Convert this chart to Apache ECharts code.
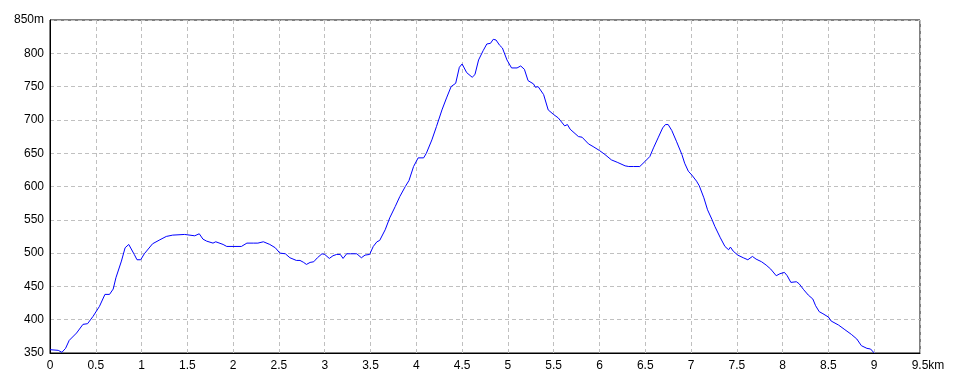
<!DOCTYPE html>
<html>
<head>
<meta charset="utf-8">
<script src="https://cdn.jsdelivr.net/npm/echarts@6/dist/echarts.min.js"></script>
<style>html,body{margin:0;padding:0;background:#fff}#c{width:960px;height:384px}</style>
</head>
<body>
<div id="c"></div>
<script>
const distanceKm = [0, 0.09, 0.13, 0.17, 0.21, 0.29, 0.36, 0.41, 0.47, 0.54,
  0.60, 0.65, 0.69, 0.72, 0.78, 0.82, 0.86, 0.88, 0.92, 0.95,
  0.99, 1.03, 1.12, 1.20, 1.27, 1.34, 1.47, 1.58, 1.63, 1.67,
  1.71, 1.78, 1.81, 1.89, 1.93, 2.09, 2.15, 2.22, 2.27, 2.33,
  2.40, 2.46, 2.51, 2.57, 2.62, 2.69, 2.73, 2.77, 2.80, 2.84,
  2.88, 2.92, 2.97, 3.00, 3.05, 3.09, 3.13, 3.17, 3.20, 3.24,
  3.28, 3.35, 3.40, 3.44, 3.49, 3.53, 3.57, 3.60, 3.66, 3.71,
  3.77, 3.82, 3.88, 3.92, 3.97, 4.02, 4.08, 4.11, 4.17, 4.22,
  4.28, 4.33, 4.38, 4.43, 4.47, 4.50, 4.55, 4.61, 4.64, 4.68,
  4.73, 4.77, 4.81, 4.84, 4.87, 4.91, 4.94, 4.99, 5.04, 5.10,
  5.14, 5.18, 5.22, 5.28, 5.30, 5.33, 5.39, 5.44, 5.50, 5.55,
  5.62, 5.65, 5.68, 5.77, 5.81, 5.88, 5.93, 6.00, 6.06, 6.13,
  6.20, 6.28, 6.32, 6.34, 6.37, 6.44, 6.50, 6.55, 6.59, 6.64,
  6.69, 6.72, 6.75, 6.79, 6.84, 6.90, 6.93, 6.97, 7.01, 7.06,
  7.09, 7.14, 7.18, 7.23, 7.26, 7.32, 7.37, 7.41, 7.43, 7.46,
  7.51, 7.57, 7.62, 7.67, 7.71, 7.77, 7.82, 7.87, 7.93, 7.97,
  8.02, 8.05, 8.09, 8.15, 8.18, 8.23, 8.28, 8.33, 8.36, 8.40,
  8.44, 8.50, 8.53, 8.61, 8.68, 8.75, 8.81, 8.86, 8.92, 8.96,
  9.00];
const elevationM = [355, 354, 351, 357, 369, 380, 393, 394, 405, 420,
  438, 438, 446, 463, 488, 508, 513, 511, 498, 490,
  490, 499, 514, 520, 525, 527, 528, 526, 529, 521,
  518, 515, 517, 513, 510, 510, 515, 515, 515, 517,
  513, 508, 500, 499, 493, 489, 489, 486, 483, 486,
  487, 493, 499, 498, 492, 496, 498, 498, 492, 499,
  499, 499, 493, 497, 498, 510, 517, 519, 535, 553,
  570, 585, 600, 609, 630, 643, 643, 650, 670, 690,
  715, 733, 750, 755, 779, 784, 771, 764, 768, 790,
  804, 814, 815, 821, 820, 812, 808, 790, 778, 778,
  781, 776, 759, 754, 749, 750, 738, 715, 708, 703,
  691, 693, 686, 675, 674, 664, 660, 654, 648, 640,
  636, 631, 630, 632, 630, 630, 638, 645, 658, 673,
  688, 693, 693, 684, 668, 648, 635, 623, 617, 608,
  601, 583, 565, 550, 540, 523, 510, 505, 509, 503,
  497, 493, 490, 495, 491, 487, 482, 476, 466, 469,
  471, 466, 456, 457, 454, 445, 437, 431, 421, 412,
  409, 404, 398, 392, 385, 378, 371, 361, 357, 356,
  350];
const xMin = 0, xMax = 9.5, xStep = 0.5, xUnit = 'km';
const yMin = 350, yMax = 850, yStep = 50, yUnit = 'm';

const font = "'Liberation Sans Narrow', 'Liberation Sans', sans-serif";
const chart = echarts.init(document.getElementById('c'), null, {renderer: 'canvas'});
const points = distanceKm.map((d, i) => [d, elevationM[i]]);
chart.setOption({
  animation: false,
  backgroundColor: '#ffffff',
  grid: {left: 50, right: 40, top: 20, bottom: 31, show: true, borderColor: '#000', borderWidth: 1, backgroundColor: 'transparent'},
  xAxis: {
    type: 'value', min: xMin, max: xMax, interval: xStep,
    axisLine: {show: true, onZero: false, lineStyle: {color: '#000', width: 1}},
    axisTick: {show: false},
    splitLine: {show: true, lineStyle: {color: '#c0c0c0', type: [4, 3], width: 1}},
    axisLabel: {
      color: '#000', fontFamily: font, fontSize: 12, margin: 7,
      formatter: v => (Math.abs(v - xMax) < 1e-9 ? '{u|' + v + xUnit + '}' : String(v)),
      rich: {u: {color: '#000', fontFamily: font, fontSize: 12, padding: [0, 0, 0, 16]}}
    }
  },
  yAxis: {
    type: 'value', min: yMin, max: yMax, interval: yStep,
    axisLine: {show: true, onZero: false, lineStyle: {color: '#000', width: 1}},
    axisTick: {show: false},
    splitLine: {show: true, lineStyle: {color: '#c0c0c0', type: [4, 3], width: 1}},
    axisLabel: {
      color: '#000', fontFamily: font, fontSize: 12, margin: 6,
      formatter: v => (v === yMax ? v + yUnit : String(v))
    }
  },
  series: [{
    type: 'line', data: points, showSymbol: false, symbol: 'none',
    lineStyle: {color: '#0000ff', width: 1}, smooth: false
  }]
});
</script>
</body>
</html>
